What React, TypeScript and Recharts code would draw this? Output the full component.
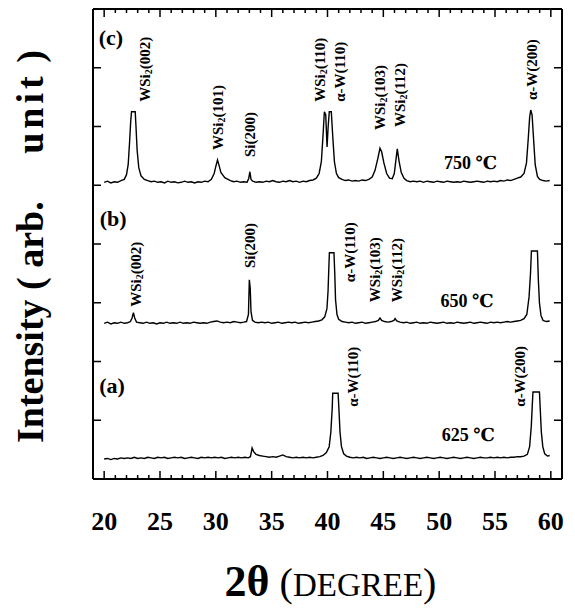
import React from 'react';
import { LineChart, Line, XAxis, YAxis, ReferenceDot } from 'recharts';

// 2θ (deg), intensity (arb. units, stacked offsets already included)
const xrd750: [number, number][] = [
  [20.0,5.05],[20.3,5.07],[20.6,5.04],[20.9,5.06],[21.2,5.05],[21.5,5.08],[21.8,5.1],[22.0,5.18],[22.15,5.35],[22.28,5.75],
  [22.38,6.1],[22.45,6.25],[22.78,6.25],[22.85,6.0],[22.95,5.6],[23.1,5.3],[23.3,5.16],[23.6,5.1],[23.9,5.08],[24.2,5.06],
  [24.5,5.07],[24.8,5.05],[25.1,5.06],[25.4,5.04],[25.7,5.07],[26.0,5.05],[26.3,5.06],[26.6,5.04],[26.9,5.05],[27.2,5.07],
  [27.5,5.05],[27.8,5.06],[28.1,5.04],[28.4,5.06],[28.7,5.05],[29.0,5.07],[29.3,5.06],[29.6,5.1],[29.85,5.2],[30.0,5.32],
  [30.15,5.43],[30.3,5.33],[30.45,5.22],[30.6,5.18],[30.8,5.13],[31.0,5.11],[31.3,5.08],[31.6,5.06],[31.9,5.07],[32.2,5.05],
  [32.5,5.06],[32.8,5.05],[32.95,5.12],[33.05,5.23],[33.15,5.1],[33.3,5.07],[33.6,5.05],[33.9,5.06],[34.2,5.05],[34.5,5.07],
  [34.8,5.06],[35.1,5.08],[35.4,5.06],[35.7,5.05],[36.0,5.07],[36.3,5.06],[36.6,5.08],[36.9,5.06],[37.2,5.07],[37.5,5.05],
  [37.8,5.07],[38.1,5.06],[38.4,5.08],[38.7,5.09],[39.0,5.12],[39.25,5.2],[39.45,5.4],[39.6,5.85],[39.72,6.25],[39.84,6.2],
  [39.96,5.65],[40.06,6.0],[40.16,6.25],[40.34,6.25],[40.48,5.8],[40.62,5.4],[40.8,5.2],[41.0,5.13],[41.3,5.1],[41.6,5.08],
  [41.9,5.09],[42.2,5.07],[42.5,5.08],[42.8,5.07],[43.1,5.09],[43.4,5.08],[43.7,5.1],[44.0,5.14],[44.25,5.25],[44.5,5.45],
  [44.7,5.63],[44.85,5.57],[45.05,5.38],[45.3,5.2],[45.55,5.12],[45.8,5.11],[45.98,5.2],[46.12,5.42],[46.25,5.62],[46.4,5.42],
  [46.6,5.22],[46.85,5.12],[47.1,5.08],[47.4,5.06],[47.7,5.07],[48.0,5.06],[48.3,5.07],[48.6,5.05],[48.9,5.07],[49.2,5.06],
  [49.5,5.05],[49.8,5.07],[50.1,5.06],[50.4,5.05],[50.7,5.07],[51.0,5.06],[51.3,5.05],[51.6,5.06],[51.9,5.05],[52.2,5.07],
  [52.5,5.06],[52.8,5.05],[53.1,5.06],[53.4,5.07],[53.7,5.06],[54.0,5.05],[54.3,5.07],[54.6,5.06],[54.9,5.07],[55.2,5.06],
  [55.5,5.08],[55.8,5.07],[56.1,5.09],[56.4,5.08],[56.7,5.1],[57.0,5.12],[57.3,5.14],[57.6,5.2],[57.82,5.38],[57.98,5.8],
  [58.1,6.15],[58.2,6.28],[58.32,6.2],[58.45,5.8],[58.6,5.35],[58.8,5.15],[59.0,5.1],[59.3,5.08],[59.6,5.07],[59.9,5.08],
];

const xrd650: [number, number][] = [
  [20.0,2.65],[20.3,2.67],[20.6,2.64],[20.9,2.66],[21.2,2.65],[21.5,2.67],[21.8,2.65],[22.1,2.66],[22.35,2.68],[22.5,2.74],
  [22.62,2.83],[22.75,2.73],[22.9,2.67],[23.2,2.66],[23.5,2.65],[23.8,2.67],[24.1,2.65],[24.4,2.66],[24.7,2.64],[25.0,2.66],
  [25.3,2.65],[25.6,2.67],[25.9,2.65],[26.2,2.66],[26.5,2.65],[26.8,2.67],[27.1,2.65],[27.4,2.66],[27.7,2.65],[28.0,2.67],
  [28.3,2.66],[28.6,2.65],[28.9,2.66],[29.2,2.65],[29.5,2.67],[29.8,2.68],[30.1,2.69],[30.4,2.67],[30.7,2.66],[31.0,2.67],
  [31.3,2.66],[31.6,2.68],[31.9,2.67],[32.2,2.66],[32.5,2.67],[32.75,2.68],[32.92,2.8],[33.0,3.39],[33.08,3.25],[33.15,2.85],
  [33.28,2.7],[33.5,2.67],[33.8,2.66],[34.1,2.67],[34.4,2.66],[34.7,2.67],[35.0,2.65],[35.3,2.66],[35.6,2.67],[35.9,2.65],
  [36.2,2.66],[36.5,2.67],[36.8,2.66],[37.1,2.67],[37.4,2.65],[37.7,2.66],[38.0,2.67],[38.3,2.66],[38.6,2.67],[38.9,2.68],
  [39.2,2.69],[39.5,2.71],[39.75,2.76],[39.95,2.9],[40.05,3.2],[40.12,3.6],[40.17,3.85],[40.58,3.85],[40.65,3.5],[40.72,3.05],
  [40.85,2.8],[41.0,2.72],[41.3,2.68],[41.6,2.67],[41.9,2.66],[42.2,2.67],[42.5,2.65],[42.8,2.66],[43.1,2.67],[43.4,2.65],
  [43.7,2.66],[44.0,2.67],[44.3,2.68],[44.55,2.7],[44.7,2.74],[44.85,2.7],[45.1,2.68],[45.4,2.67],[45.7,2.68],[45.95,2.7],
  [46.05,2.73],[46.2,2.69],[46.5,2.67],[46.8,2.66],[47.1,2.67],[47.4,2.65],[47.7,2.66],[48.0,2.67],[48.3,2.65],[48.6,2.66],
  [48.9,2.65],[49.2,2.67],[49.5,2.66],[49.8,2.65],[50.1,2.66],[50.4,2.67],[50.7,2.65],[51.0,2.66],[51.3,2.65],[51.6,2.67],
  [51.9,2.66],[52.2,2.65],[52.5,2.66],[52.8,2.67],[53.1,2.65],[53.4,2.66],[53.7,2.67],[54.0,2.66],[54.3,2.65],[54.6,2.67],
  [54.9,2.66],[55.2,2.67],[55.5,2.66],[55.8,2.67],[56.1,2.68],[56.4,2.67],[56.7,2.68],[57.0,2.69],[57.3,2.7],[57.6,2.73],
  [57.85,2.8],[58.05,3.1],[58.18,3.5],[58.26,3.88],[58.8,3.88],[58.88,3.4],[58.98,3.0],[59.12,2.78],[59.3,2.7],[59.6,2.68],
  [59.9,2.69],
];

const xrd625: [number, number][] = [
  [20.0,0.34],[20.3,0.35],[20.6,0.33],[20.9,0.35],[21.2,0.34],[21.5,0.36],[21.8,0.35],[22.1,0.36],[22.4,0.35],[22.7,0.37],
  [23.0,0.35],[23.3,0.36],[23.6,0.35],[23.9,0.37],[24.2,0.36],[24.5,0.35],[24.8,0.37],[25.1,0.36],[25.4,0.37],[25.7,0.35],
  [26.0,0.36],[26.3,0.37],[26.6,0.36],[26.9,0.37],[27.2,0.35],[27.5,0.36],[27.8,0.37],[28.1,0.36],[28.4,0.35],[28.7,0.37],
  [29.0,0.36],[29.3,0.37],[29.6,0.36],[29.9,0.37],[30.2,0.36],[30.5,0.37],[30.8,0.35],[31.1,0.36],[31.4,0.37],[31.7,0.36],
  [32.0,0.37],[32.3,0.36],[32.6,0.37],[32.9,0.36],[33.1,0.38],[33.25,0.53],[33.4,0.46],[33.6,0.42],[33.9,0.4],[34.2,0.39],
  [34.5,0.38],[34.8,0.37],[35.1,0.38],[35.4,0.37],[35.7,0.39],[36.0,0.41],[36.3,0.38],[36.6,0.37],[36.9,0.36],[37.2,0.37],
  [37.5,0.36],[37.8,0.37],[38.1,0.36],[38.4,0.37],[38.7,0.36],[39.0,0.37],[39.3,0.38],[39.6,0.4],[39.9,0.45],[40.15,0.55],
  [40.3,0.8],[40.42,1.2],[40.47,1.46],[40.95,1.46],[41.02,1.2],[41.12,0.8],[41.25,0.55],[41.45,0.43],[41.7,0.39],[42.0,0.37],
  [42.3,0.36],[42.6,0.37],[42.9,0.36],[43.2,0.37],[43.5,0.35],[43.8,0.36],[44.1,0.37],[44.4,0.36],[44.7,0.35],[45.0,0.36],
  [45.3,0.37],[45.6,0.36],[45.9,0.35],[46.2,0.36],[46.5,0.37],[46.8,0.36],[47.1,0.35],[47.4,0.36],[47.7,0.37],[48.0,0.36],
  [48.3,0.35],[48.6,0.36],[48.9,0.37],[49.2,0.36],[49.5,0.35],[49.8,0.36],[50.1,0.37],[50.4,0.36],[50.7,0.35],[51.0,0.36],
  [51.3,0.37],[51.6,0.36],[51.9,0.35],[52.2,0.36],[52.5,0.37],[52.8,0.36],[53.1,0.35],[53.4,0.36],[53.7,0.37],[54.0,0.36],
  [54.3,0.36],[54.6,0.37],[54.9,0.36],[55.2,0.37],[55.5,0.36],[55.8,0.37],[56.1,0.36],[56.4,0.37],[56.7,0.37],[57.0,0.38],
  [57.3,0.38],[57.6,0.39],[57.9,0.42],[58.1,0.55],[58.25,0.9],[58.35,1.3],[58.4,1.48],[58.98,1.48],[59.05,1.2],[59.15,0.8],
  [59.28,0.55],[59.45,0.43],[59.7,0.39],[59.9,0.4],
];

const xTicks = [20,21,22,23,24,25,26,27,28,29,30,31,32,33,34,35,36,37,38,39,40,41,42,43,44,45,46,47,48,49,50,51,52,53,54,55,56,57,58,59,60];
const yTicks = [0,1,2,3,4,5,6,7,8];

// peak labels: [formula part, index part, 2θ of label, intensity at label's lower end]
const peakLabels: [string, string, number, number][] = [
  ['WSi', '(002)', 23.67, 6.42], ['WSi', '(101)', 30.2, 5.6], ['', 'Si(200)', 33.07, 5.48],
  ['WSi', '(110)', 39.33, 6.42], ['', 'α-W(110)', 41.12, 6.42], ['WSi', '(103)', 44.7, 5.94],
  ['WSi', '(112)', 46.5, 5.99], ['', 'α-W(200)', 58.3, 6.45],
  ['WSi', '(002)', 22.86, 2.93], ['', 'Si(200)', 33.07, 3.59], ['', 'α-W(110)', 42.0, 3.35],
  ['WSi', '(103)', 44.25, 3.01], ['WSi', '(112)', 46.2, 3.01],
  ['', 'α-W(110)', 42.3, 1.23], ['', 'α-W(200)', 57.2, 1.23],
];
const tempLabels: [string, number, number][] = [['750 ℃', 52.8, 5.38], ['650 ℃', 52.5, 3.03], ['625 ℃', 52.6, 0.75]];
const panelLabels: [string, number, number][] = [['(c)', 20.6, 7.52], ['(b)', 20.8, 4.44], ['(a)', 20.7, 1.6]];

const toObjs = (arr: [number, number][]) => arr.map(([x, y]) => ({ x, y }));

const SERIF = "'Liberation Serif', 'Times New Roman', 'DejaVu Serif', serif";

const BottomTick = (p: any) => {
  const v = p.payload.value;
  const major = v % 5 === 0;
  return (
    <g>
      <line x1={p.x} x2={p.x} y1={p.y} y2={p.y - (major ? 8 : 4)} stroke="#000" strokeWidth={1.5} />
      {major && (
        <text x={p.x} y={p.y + 51} textAnchor="middle" fontFamily={SERIF} fontWeight="bold" fontSize={26} fill="#000">
          {v}
        </text>
      )}
    </g>
  );
};
const TopTick = (p: any) => {
  const v = p.payload.value;
  const major = v % 5 === 0;
  return <line x1={p.x} x2={p.x} y1={p.y} y2={p.y + (major ? 8 : 4)} stroke="#000" strokeWidth={1.5} />;
};
const LeftTick = (p: any) => <line x1={p.x} x2={p.x + 8} y1={p.y} y2={p.y} stroke="#000" strokeWidth={1.5} />;
const RightTick = (p: any) => <line x1={p.x} x2={p.x - 8} y1={p.y} y2={p.y} stroke="#000" strokeWidth={1.5} />;

export default function App() {
  return (
    <div style={{ width: 567, height: 600 }}>
      <LineChart width={567} height={600} margin={{ top: 0, right: 0, left: 0, bottom: 0 }}>
        <XAxis
          xAxisId="b" dataKey="x" type="number" domain={[19, 61]} ticks={xTicks} interval={0}
          orientation="bottom" height={129} tickSize={0} tickMargin={0} tickLine={false}
          axisLine={{ stroke: '#000', strokeWidth: 2 }} tick={<BottomTick />}
          label={{
            content: (lp: any) => {
              const vb = lp.viewBox;
              return (
                <text x={vb.x + vb.width / 2 + 3} y={vb.y + 117} textAnchor="middle" fontFamily={SERIF} fill="#000">
                  <tspan fontWeight="bold" fontSize={44}>2θ</tspan>
                  <tspan fontSize={40}> (</tspan>
                  <tspan fontSize={33}>DEGREE</tspan>
                  <tspan fontSize={40}>)</tspan>
                </text>
              );
            },
          }}
        />
        <XAxis
          xAxisId="t" dataKey="x" type="number" domain={[19, 61]} ticks={xTicks} interval={0}
          orientation="top" height={1} tickSize={0} tickMargin={0} tickLine={false}
          axisLine={{ stroke: '#000', strokeWidth: 2 }} tick={<TopTick />}
        />
        <YAxis
          yAxisId="l" type="number" domain={[0, 8]} ticks={yTicks} interval={0} orientation="left" width={85}
          tickSize={0} tickMargin={0} tickLine={false} axisLine={{ stroke: '#000', strokeWidth: 2 }} tick={<LeftTick />}
          label={{
            content: (lp: any) => {
              const vb = lp.viewBox;
              const cx = vb.x + 22;
              const cy = vb.y + 434;
              return (
                <text x={cx} y={cy} transform={`rotate(-90 ${cx} ${cy})`} textAnchor="start" dominantBaseline="central"
                  fontFamily={SERIF} fontWeight="bold" fontSize={38} fill="#000" style={{ whiteSpace: 'pre' }}>
                  <tspan>{'Intensity ( arb.     '}</tspan>
                  <tspan letterSpacing={4}>{'unit'}</tspan>
                  <tspan>{' )'}</tspan>
                </text>
              );
            },
          }}
        />
        <YAxis
          yAxisId="r" type="number" domain={[0, 8]} ticks={yTicks} interval={0} orientation="right" width={13}
          tickSize={0} tickMargin={0} tickLine={false} axisLine={{ stroke: '#000', strokeWidth: 2 }} tick={<RightTick />}
        />
        <Line data={toObjs(xrd625)} xAxisId="b" yAxisId="l" dataKey="y" type="linear" dot={false} stroke="#000" strokeWidth={1.4} isAnimationActive={false} />
        <Line data={toObjs(xrd650)} xAxisId="b" yAxisId="r" dataKey="y" type="linear" dot={false} stroke="#000" strokeWidth={1.4} isAnimationActive={false} />
        <Line data={toObjs(xrd750)} xAxisId="t" yAxisId="l" dataKey="y" type="linear" dot={false} stroke="#000" strokeWidth={1.4} isAnimationActive={false} />
        {peakLabels.map(([pre, post, x, y], i) => (
          <ReferenceDot key={'p' + i} xAxisId="b" yAxisId="l" x={x} y={y} r={0} fill="none" stroke="none"
            label={{
              content: (lp: any) => {
                const vb = lp.viewBox;
                const cx = vb.x, cy = vb.y;
                return (
                  <text x={cx} y={cy} transform={`rotate(-90 ${cx} ${cy})`} textAnchor="start" dominantBaseline="central"
                    fontFamily={SERIF} fontWeight="bold" fontSize={15} fill="#000">
                    {pre ? <tspan>{pre}</tspan> : null}
                    {pre ? <tspan fontSize={10} dy={3}>2</tspan> : null}
                    <tspan dy={pre ? -3 : 0}>{post}</tspan>
                  </text>
                );
              },
            }}
          />
        ))}
        {tempLabels.map(([t, x, y], i) => (
          <ReferenceDot key={'t' + i} xAxisId="b" yAxisId="l" x={x} y={y} r={0} fill="none" stroke="none"
            label={{
              content: (lp: any) => (
                <text x={lp.viewBox.x} y={lp.viewBox.y} textAnchor="middle" dominantBaseline="central"
                  fontFamily={SERIF} fontWeight="bold" fontSize={18} fill="#000">{t}</text>
              ),
            }}
          />
        ))}
        {panelLabels.map(([t, x, y], i) => (
          <ReferenceDot key={'l' + i} xAxisId="b" yAxisId="l" x={x} y={y} r={0} fill="none" stroke="none"
            label={{
              content: (lp: any) => (
                <text x={lp.viewBox.x} y={lp.viewBox.y} textAnchor="middle" dominantBaseline="central"
                  fontFamily={SERIF} fontWeight="bold" fontSize={22} fill="#000">{t}</text>
              ),
            }}
          />
        ))}
      </LineChart>
    </div>
  );
}
